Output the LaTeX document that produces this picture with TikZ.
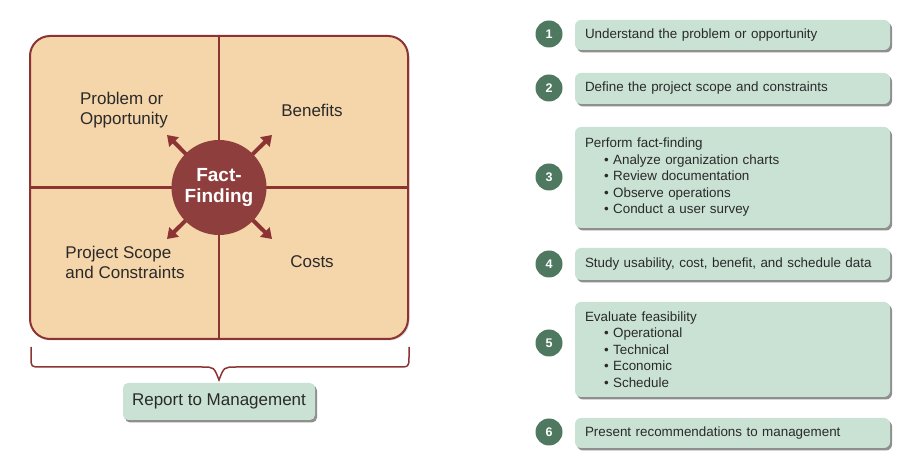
\documentclass[tikz,border=0pt]{standalone}
\usepackage{fontspec}
\setmainfont{Liberation Sans}
\usetikzlibrary{arrows.meta,shadows}

\definecolor{peach}{HTML}{F5D5AA}
\definecolor{brick}{HTML}{8C3434}
\definecolor{brickfill}{HTML}{8E3E3C}
\definecolor{mint}{HTML}{C9E2D3}
\definecolor{pine}{HTML}{4F7860}
\definecolor{ink}{HTML}{2A2A2A}

\tikzset{
  boxshadow/.style={drop shadow={shadow xshift=2pt, shadow yshift=-2.5pt, fill=black!55, opacity=0.8}},
  stepbox/.style={rectangle, rounded corners=6pt, fill=mint, boxshadow, minimum width=315pt, text=ink,
    text width=295pt, inner xsep=10pt, align=left, font=\fontsize{13.4}{16.5}\selectfont},
  stepnum/.style={circle, fill=pine, text=white, minimum size=27pt, inner sep=0pt, font=\bfseries\fontsize{12.5}{12.5}\selectfont},
  fieldlabel/.style={align=left, text=ink, font=\fontsize{17}{20}\selectfont},
  outarrow/.style={draw=brick, line width=4pt, -{Triangle[length=10pt,width=13pt]}}
}

\newcommand{\bul}[1]{\\\hspace*{19pt}\textbullet\ #1}

\begin{document}
\begin{tikzpicture}[x=1pt, y=-1pt]
        \useasboundingbox (0,0) rectangle (906,462);

        % Define the fact-finding grid
        \node[rectangle, rounded corners=20pt, draw=brick, line width=2pt, fill=peach,
              drop shadow={shadow xshift=1.5pt, shadow yshift=-1.5pt, fill=black!30},
              minimum width=378pt, minimum height=303pt] (grid) at (219,187.5) {};
        \draw[brick, line width=2.5pt] (grid.north) -- (grid.south);
        \draw[brick, line width=2.5pt] (grid.west) -- (grid.east);

        % Define the quadrant labels
        \node[fieldlabel] (problem) at (124,110) {Problem or\\Opportunity};
        \node[fieldlabel] (benefits) at (312,110) {Benefits};
        \node[fieldlabel] (scope) at (125,262) {Project Scope\\and Constraints};
        \node[fieldlabel] (costs) at (312,262) {Costs};

        % Define the centre and its arrows
        \coordinate (tipA) at (167,135);
        \coordinate (tipB) at (272,135);
        \coordinate (tipC) at (167,239);
        \coordinate (tipD) at (272,239);
        \foreach \a/\t in {135/tipA, 45/tipB, 225/tipC, 315/tipD} {
        \draw[outarrow] (219,187.5) ++(\a:-40pt) -- (\t);
        }
        \node[circle, fill=brickfill, minimum size=95pt, inner sep=0pt, text=white, align=center,
              font=\bfseries\fontsize{19}{21}\selectfont] (ff) at (219,187.5) {Fact-\\Finding};

        % Define the brace and the report
        \draw[brick, line width=1.5pt] (31,347) -- (31,357) .. controls (31,367) .. (41,367) -- (202,367)
            .. controls (214,367) .. (219,380) .. controls (224,367) .. (236,367) -- (397,367)
            .. controls (409,367) .. (409,357) -- (409,347);
        \node[rectangle, rounded corners=5pt, fill=mint, boxshadow, minimum width=192pt, minimum height=37pt,
              text=ink, font=\fontsize{17}{20}\selectfont] (report) at (219,401.5) {Report to Management};

        % Define the steps
        \foreach \i/\y/\h/\cy/\text in
        {
            1/35/30/34/Understand the problem or opportunity,
            2/88.5/31/88/Define the project scope and constraints,
            3/177.5/101/177/{Perform fact-finding\bul{Analyze organization charts}\bul{Review documentation}\bul{Observe operations}\bul{Conduct a user survey}},
            4/264/32/264/{Study usability, cost, benefit, and schedule data},
            5/349.5/95/343/{Evaluate feasibility\bul{Operational}\bul{Technical}\bul{Economic}\bul{Schedule}},
            6/433/30/432/Present recommendations to management
        } {
        \node[stepbox, minimum height=\h pt] (step\i) at (732.5,\y) {\text};
        \node[stepnum] (num\i) at (549,\cy) {\i};
        }
    \end{tikzpicture}
\end{document}
